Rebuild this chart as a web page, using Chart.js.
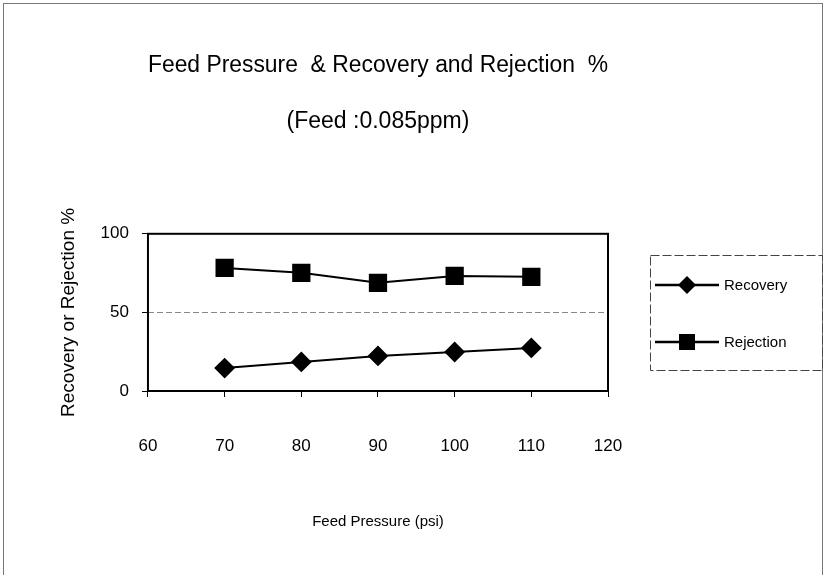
<!DOCTYPE html>
<html>
<head>
<meta charset="utf-8">
<script src="https://cdn.jsdelivr.net/npm/chart.js@4/dist/chart.umd.min.js"></script>
<style>
  html, body { margin: 0; padding: 0; background: #fff; }
  #wrap { width: 829px; height: 575px; position: relative; }
</style>
</head>
<body>
<div id="wrap"><canvas id="pressureChart"></canvas></div>
<script>
// feed pressure (psi) against recovery / rejection (%)
var pressure = [70, 80, 90, 100, 110];
var recovery = [14.6, 18.5, 22.3, 24.8, 27.4];
var rejection = [78.3, 75.2, 68.8, 73.2, 72.6];
var xTicks = [60, 70, 80, 90, 100, 110, 120];
var yTicks = [0, 50, 100];

var FONT = "'Liberation Sans', Arial, sans-serif";

function pairs(xs, ys) {
  return xs.map(function (x, i) { return { x: x, y: ys[i] }; });
}

// legend swatch: a short line with the marker in the middle
function swatch(kind) {
  var c = document.createElement("canvas");
  c.width = 64; c.height = 24;
  var g = c.getContext("2d");
  g.strokeStyle = "#000";
  g.lineWidth = 2.5;
  g.beginPath(); g.moveTo(0, 12); g.lineTo(64, 12); g.stroke();
  g.fillStyle = "#000";
  if (kind === "diamond") {
    g.beginPath();
    g.moveTo(32, 3); g.lineTo(41, 12); g.lineTo(32, 21); g.lineTo(23, 12);
    g.closePath(); g.fill();
  } else {
    g.fillRect(24, 4, 16, 16);
  }
  return c;
}
var swatches = [swatch("diamond"), swatch("square")];

var framePlugin = {
  id: "frames",
  beforeDraw: function (chart) {
    var ctx = chart.ctx;
    ctx.save();
    ctx.strokeStyle = "#777";
    ctx.lineWidth = 1;
    ctx.strokeRect(3.5, 3.5, 819, 600);
    ctx.restore();
  },
  beforeDatasetsDraw: function (chart) {
    var a = chart.chartArea, ctx = chart.ctx;
    ctx.save();
    ctx.strokeStyle = "#000";
    ctx.lineWidth = 2;
    ctx.strokeRect(a.left, a.top, a.right - a.left, a.bottom - a.top);
    ctx.restore();
  },
  // boxed legend to the right of the plot
  afterDraw: function (chart) {
    var ctx = chart.ctx;
    var a = chart.chartArea;
    var boxL = a.right + 42, boxT = 255, boxW = 172, boxH = 115;
    ctx.save();
    ctx.strokeStyle = "#444";
    ctx.lineWidth = 1;
    ctx.setLineDash([9, 3]);
    ctx.strokeRect(boxL + 0.5, boxT + 0.5, boxW, boxH);
    ctx.setLineDash([]);
    ctx.fillStyle = "#000";
    ctx.font = "15px " + FONT;
    ctx.textBaseline = "middle";
    chart.data.datasets.forEach(function (ds, i) {
      var cy = boxT + 30 + i * 57;
      ctx.drawImage(swatches[i], boxL + 5, cy - 12);
      ctx.fillText(ds.label, boxL + 74, cy + 1);
    });
    ctx.restore();
  }
};

new Chart(document.getElementById("pressureChart"), {
  type: "line",
  data: {
    datasets: [
      {
        label: "Recovery",
        data: pairs(pressure, recovery),
        borderColor: "#000",
        backgroundColor: "#000",
        borderWidth: 2,
        pointStyle: "rectRot",
        pointRadius: 9,
        pointHoverRadius: 9,
        tension: 0
      },
      {
        label: "Rejection",
        data: pairs(pressure, rejection),
        borderColor: "#000",
        backgroundColor: "#000",
        borderWidth: 2,
        pointStyle: "rect",
        pointRadius: 11.5,
        pointHoverRadius: 11.5,
        tension: 0
      }
    ]
  },
  options: {
    responsive: true,
    maintainAspectRatio: false,
    animation: false,
    layout: { padding: { left: 57, right: 221, top: 0, bottom: 0 } },
    plugins: {
      title: {
        display: true,
        fullSize: false,
        text: "Feed Pressure  & Recovery and Rejection  %",
        color: "#000",
        font: { family: FONT, size: 23, weight: "normal" },
        padding: { top: 52, bottom: 0 }
      },
      subtitle: {
        display: true,
        fullSize: false,
        text: "(Feed :0.085ppm)",
        color: "#000",
        font: { family: FONT, size: 23, weight: "normal" },
        padding: { top: 28.6, bottom: 98 }
      },
      legend: { display: false },
      tooltip: { enabled: false }
    },
    scales: {
      x: {
        type: "linear",
        min: xTicks[0],
        max: xTicks[xTicks.length - 1],
        afterBuildTicks: function (s) { s.ticks = xTicks.map(function (v) { return { value: v }; }); },
        grid: { color: "transparent", tickColor: "#000", tickLength: 6 },
        border: { display: false },
        ticks: { color: "#000", padding: 39, maxRotation: 0, font: { family: FONT, size: 17 } },
        title: {
          display: true,
          text: "Feed Pressure (psi)",
          color: "#000",
          font: { family: FONT, size: 15 },
          padding: { top: 17.6, bottom: 44 }
        }
      },
      y: {
        min: yTicks[0],
        max: yTicks[yTicks.length - 1],
        afterBuildTicks: function (s) { s.ticks = yTicks.map(function (v) { return { value: v }; }); },
        grid: {
          color: function (c) { return c.tick && c.tick.value === 50 ? "#888" : "transparent"; },
          tickColor: "#000",
          tickLength: 6
        },
        border: { display: false, dash: [6, 3] },
        ticks: { color: "#000", padding: 13, font: { family: FONT, size: 17 } },
        title: {
          display: true,
          text: "Recovery or Rejection %",
          color: "#000",
          font: { family: FONT, size: 19 },
          padding: { top: 0, bottom: 7.8 }
        }
      }
    }
  },
  plugins: [framePlugin]
});
</script>
</body>
</html>
